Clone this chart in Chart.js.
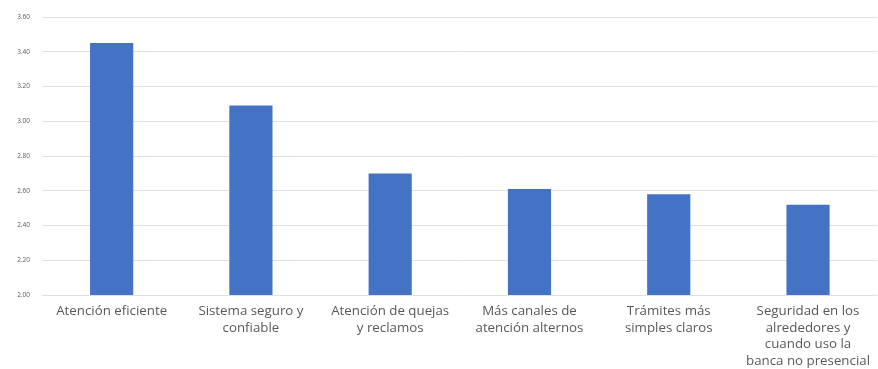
<!DOCTYPE html>
<html>
<head>
<meta charset="utf-8">
<script src="https://cdn.jsdelivr.net/npm/chart.js@4/dist/chart.umd.min.js"></script>
<style>
  html, body { margin: 0; padding: 0; background: #ffffff; }
  #wrap { width: 878px; height: 369px; position: relative; }
</style>
</head>
<body>
<div id="wrap"><canvas id="c" width="878" height="369"></canvas></div>
<script>
const categories = [
  ["Atención eficiente"],
  ["Sistema seguro y", "confiable"],
  ["Atención de quejas", "y reclamos"],
  ["Más canales de", "atención alternos"],
  ["Trámites más", "simples claros"],
  ["Seguridad en los", "alrededores y", "cuando uso la", "banca no presencial"]
];
const values = [3.45, 3.09, 2.70, 2.61, 2.58, 2.52];
const yMin = 2.0;
const yMax = 3.6;
const yStep = 0.2;

new Chart(document.getElementById('c'), {
  type: 'bar',
  data: {
    labels: categories,
    datasets: [{
      data: values,
      backgroundColor: '#4472c4',
      borderWidth: 0,
      categoryPercentage: 1.0,
      barPercentage: 0.31
    }]
  },
  options: {
    responsive: false,
    animation: false,
    layout: { padding: { top: 17, right: 0, left: 0, bottom: 0 } },
    plugins: { legend: { display: false }, tooltip: { enabled: false } },
    scales: {
      x: {
        grid: { display: false, drawTicks: false },
        border: { display: false },
        ticks: {
          color: '#595959',
          font: { family: 'Open Sans', size: 13.3, lineHeight: 1.25 },
          padding: 8,
          maxRotation: 0,
          autoSkip: false
        },
        afterFit: s => { s.height = 74; }
      },
      y: {
        min: yMin,
        max: yMax,
        grid: { color: '#e0e0e0', lineWidth: 1, drawTicks: false },
        border: { display: false },
        ticks: {
          stepSize: yStep,
          color: '#595959',
          font: { family: 'Open Sans', size: 6.5 },
          padding: 12,
          callback: v => Number(v).toFixed(2)
        },
        afterFit: s => { s.width = 42; }
      }
    }
  }
});
</script>
</body>
</html>
